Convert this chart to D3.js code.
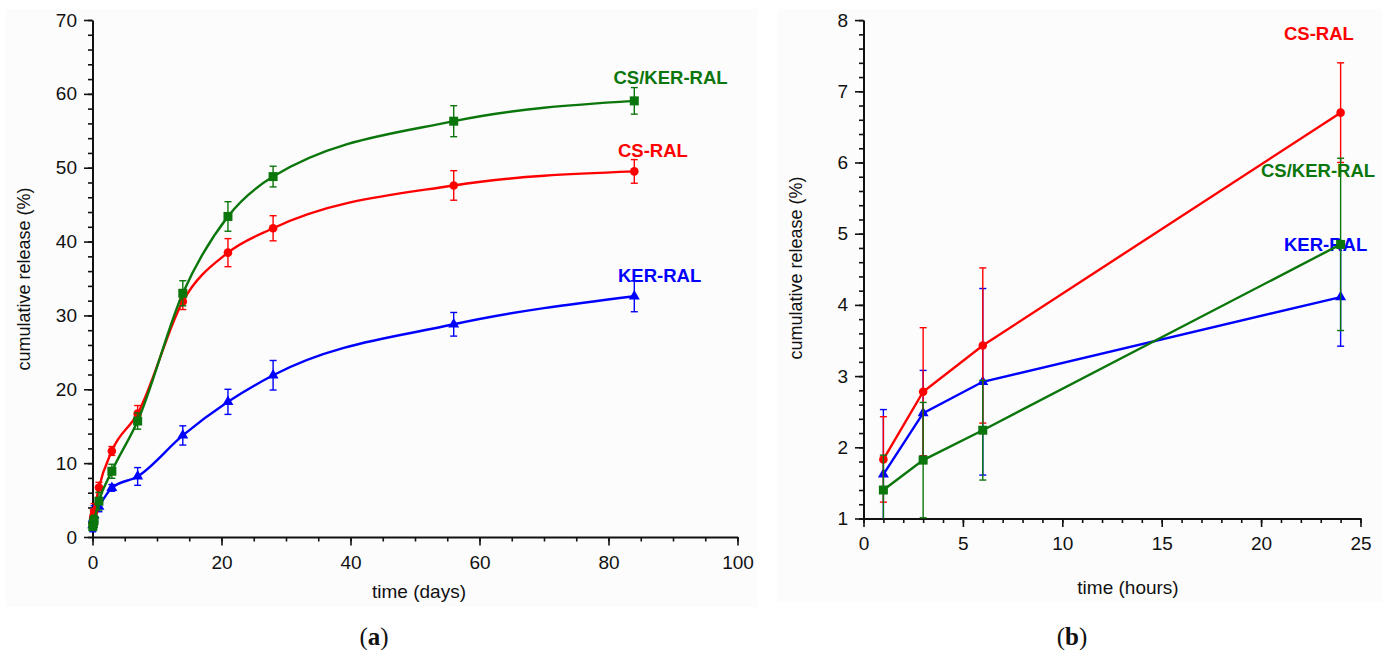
<!DOCTYPE html>
<html>
<head>
<meta charset="utf-8">
<script src="https://cdn.jsdelivr.net/npm/d3@7"></script>
<style>
  html, body { margin: 0; padding: 0; background: #ffffff; }
  svg { display: block; }
  text { font-family: "Liberation Sans", Arial, sans-serif; fill: #111; }
  .caption { font-family: "Liberation Serif", "Times New Roman", serif; }
</style>
</head>
<body>
<svg id="chart" width="1391" height="650"></svg>
<script>
// Sampling times
const HOURS = [1, 3, 6, 24];
const DAYS = [3, 7, 14, 21, 28, 56, 84];

// Cumulative release (%) over the first 24 hours
const csRalHours = [1.83, 2.78, 3.43, 6.70];
const csRalHoursErr = [0.60, 0.90, 1.09, 0.70];
const kerRalHours = [1.62, 2.48, 2.92, 4.11];
const kerRalHoursErr = [0.91, 0.60, 1.31, 0.69];
const csKerRalHours = [1.40, 1.82, 2.24, 4.85];
const csKerRalHoursErr = [0.49, 0.81, 0.70, 1.21];

// Cumulative release (%) from day 3 onwards
const csRalDays = [11.65, 16.7, 31.9, 38.5, 41.8, 47.6, 49.5];
const csRalDaysErr = [0.6, 1.1, 1.1, 1.9, 1.7, 2.0, 1.6];
const kerRalDays = [6.65, 8.2, 13.75, 18.3, 21.9, 28.8, 32.6];
const kerRalDaysErr = [0.45, 1.2, 1.3, 1.7, 2.0, 1.6, 2.1];
const csKerRalDays = [8.9, 15.7, 33.0, 43.4, 48.8, 56.3, 59.05];
const csKerRalDaysErr = [0.95, 1.1, 1.7, 2.0, 1.4, 2.1, 1.8];

// Series names and axis ticks
const seriesNames = ["KER-RAL", "CS-RAL", "CS/KER-RAL"];
const daysTicks = [0, 20, 40, 60, 80, 100];
const releaseDaysTicks = [0, 10, 20, 30, 40, 50, 60, 70];
const hoursTicks = [0, 5, 10, 15, 20, 25];
const releaseHoursTicks = [1, 2, 3, 4, 5, 6, 7, 8];

const COLORS = { "CS-RAL": "#ff0000", "KER-RAL": "#0000ff", "CS/KER-RAL": "#0b760b" };
const SYMBOLS = { "CS-RAL": "circle", "KER-RAL": "triangle", "CS/KER-RAL": "square" };

const svg = d3.select("#chart");

// faint panel backgrounds
svg.append("rect").attr("x", 5).attr("y", 9).attr("width", 752).attr("height", 598).attr("fill", "#fcfcfc");
svg.append("rect").attr("x", 777).attr("y", 9).attr("width", 605).attr("height", 593).attr("fill", "#fcfcfc");

function seriesTable(name) {
  const h = { "CS-RAL": csRalHours, "KER-RAL": kerRalHours, "CS/KER-RAL": csKerRalHours }[name];
  const he = { "CS-RAL": csRalHoursErr, "KER-RAL": kerRalHoursErr, "CS/KER-RAL": csKerRalHoursErr }[name];
  const d = { "CS-RAL": csRalDays, "KER-RAL": kerRalDays, "CS/KER-RAL": csKerRalDays }[name];
  const de = { "CS-RAL": csRalDaysErr, "KER-RAL": kerRalDaysErr, "CS/KER-RAL": csKerRalDaysErr }[name];
  const hours = HOURS.map((t, i) => ({ t, v: h[i], e: he[i] }));
  const days = hours.map(p => ({ t: p.t / 24, v: p.v, e: p.e }))
    .concat(DAYS.map((t, i) => ({ t, v: d[i], e: de[i] })));
  return { name, hours, days };
}

function drawAxes(g, x, y, xTicks, xMinor, yTicks, yMinor) {
  const ax = g.append("g");
  const yMin = y.domain()[0];
  const xMin = x.domain()[0];
  const fmt = d3.format("~g");
  // minor ticks
  ax.append("g").attr("transform", `translate(0,${y(yMin)})`)
    .call(d3.axisBottom(x).tickValues(xMinor).tickSize(4.5).tickFormat("").tickSizeOuter(0))
    .call(s => s.select(".domain").remove());
  ax.append("g").attr("transform", `translate(${x(xMin)},0)`)
    .call(d3.axisLeft(y).tickValues(yMinor).tickSize(4.5).tickFormat("").tickSizeOuter(0))
    .call(s => s.select(".domain").remove());
  // major ticks with labels
  const xa = ax.append("g").attr("transform", `translate(0,${y(yMin)})`)
    .call(d3.axisBottom(x).tickValues(xTicks).tickFormat(fmt).tickSize(8.5).tickPadding(9).tickSizeOuter(0));
  ax.append("g").attr("transform", `translate(${x(xMin)},0)`)
    .call(d3.axisLeft(y).tickValues(yTicks).tickFormat(fmt).tickSize(8.5).tickPadding(7).tickSizeOuter(0));
  ax.selectAll(".tick line").attr("stroke", "#111").attr("stroke-width", 1.6);
  ax.selectAll(".domain").attr("stroke", "#111").attr("stroke-width", 2);
  ax.selectAll(".tick text").attr("font-size", 19).attr("fill", "#111")
    .style("font-family", "'Liberation Sans', Arial, sans-serif");
  xa.selectAll(".tick text").attr("dy", "0.74em");
}

function drawSeries(g, x, y, pts, name, curve, clipBottom) {
  const c = COLORS[name];
  const yMin = y.domain()[0];
  const grp = g.append("g");
  // error bars
  const eb = grp.selectAll("g.err").data(pts).enter().append("g");
  eb.append("line")
    .attr("x1", d => x(d.t)).attr("x2", d => x(d.t))
    .attr("y1", d => y(d.v + d.e)).attr("y2", d => y(Math.max(clipBottom ? yMin : -1e9, d.v - d.e)))
    .attr("stroke", c).attr("stroke-width", 1.4);
  eb.append("line")
    .attr("x1", d => x(d.t) - 3.5).attr("x2", d => x(d.t) + 3.5)
    .attr("y1", d => y(d.v + d.e)).attr("y2", d => y(d.v + d.e))
    .attr("stroke", c).attr("stroke-width", 1.4);
  eb.filter(d => !clipBottom || d.v - d.e >= yMin).append("line")
    .attr("x1", d => x(d.t) - 3.5).attr("x2", d => x(d.t) + 3.5)
    .attr("y1", d => y(d.v - d.e)).attr("y2", d => y(d.v - d.e))
    .attr("stroke", c).attr("stroke-width", 1.4);
  // line
  grp.append("path").datum(pts)
    .attr("d", d3.line().x(d => x(d.t)).y(d => y(d.v)).curve(curve))
    .attr("fill", "none").attr("stroke", c).attr("stroke-width", 2.4);
  // markers
  const sym = { circle: d3.symbolCircle, triangle: d3.symbolTriangle, square: d3.symbolSquare }[SYMBOLS[name]];
  const size = { circle: 58, triangle: 52, square: 81 }[SYMBOLS[name]];
  grp.selectAll("path.mk").data(pts).enter().append("path")
    .attr("transform", d => `translate(${x(d.t)},${y(d.v)})`)
    .attr("d", d3.symbol().type(sym).size(size))
    .attr("fill", c);
}

function label(g, txt, xPos, yPos, name) {
  g.append("text").attr("x", xPos).attr("y", yPos)
    .attr("font-size", 18.5).attr("font-weight", "bold")
    .attr("fill", COLORS[name]).style("fill", COLORS[name])
    .text(txt);
}

const tables = seriesNames.map(seriesTable);

// ---- panel (a): days ----
{
  const g = svg.append("g");
  const x = d3.scaleLinear().domain([0, 100]).range([92.5, 737.5]);
  const y = d3.scaleLinear().domain([0, 70]).range([537, 20]);
  label(g, "CS/KER-RAL", 613.5, 84, "CS/KER-RAL");
  label(g, "CS-RAL", 618, 157, "CS-RAL");
  label(g, "KER-RAL", 618, 282, "KER-RAL");
  drawAxes(g, x, y, daysTicks, d3.range(0, 101, 5), releaseDaysTicks, d3.range(0, 71, 2));
  tables.forEach(t => drawSeries(g, x, y, t.days, t.name, d3.curveMonotoneX, false));
  g.append("text").attr("x", 419).attr("y", 598).attr("text-anchor", "middle")
    .attr("font-size", 19).text("time (days)");
  g.append("text").attr("transform", "translate(30,279) rotate(-90)").attr("text-anchor", "middle")
    .attr("font-size", 18).text("cumulative release (%)");
  const cap = g.append("text").attr("class", "caption").attr("x", 374).attr("y", 645)
    .attr("text-anchor", "middle").attr("font-size", 25);
  cap.append("tspan").text("(");
  cap.append("tspan").attr("font-weight", "bold").text("a");
  cap.append("tspan").text(")");
}

// ---- panel (b): hours ----
{
  const g = svg.append("g");
  const x = d3.scaleLinear().domain([0, 25]).range([863.5, 1360.5]);
  const y = d3.scaleLinear().domain([1, 8]).range([518.5, 20.1]);
  label(g, "CS-RAL", 1284, 40, "CS-RAL");
  label(g, "CS/KER-RAL", 1261, 177, "CS/KER-RAL");
  label(g, "KER-RAL", 1284, 251, "KER-RAL");
  drawAxes(g, x, y, hoursTicks, d3.range(0, 26, 1), releaseHoursTicks, d3.range(1, 8.01, 0.2));
  tables.forEach(t => drawSeries(g, x, y, t.hours, t.name, d3.curveLinear, true));
  g.append("text").attr("x", 1128).attr("y", 594).attr("text-anchor", "middle")
    .attr("font-size", 19).text("time (hours)");
  g.append("text").attr("transform", "translate(802,268) rotate(-90)").attr("text-anchor", "middle")
    .attr("font-size", 18).text("cumulative release (%)");
  const cap = g.append("text").attr("class", "caption").attr("x", 1072).attr("y", 645)
    .attr("text-anchor", "middle").attr("font-size", 25);
  cap.append("tspan").text("(");
  cap.append("tspan").attr("font-weight", "bold").text("b");
  cap.append("tspan").text(")");
}
</script>
</body>
</html>
